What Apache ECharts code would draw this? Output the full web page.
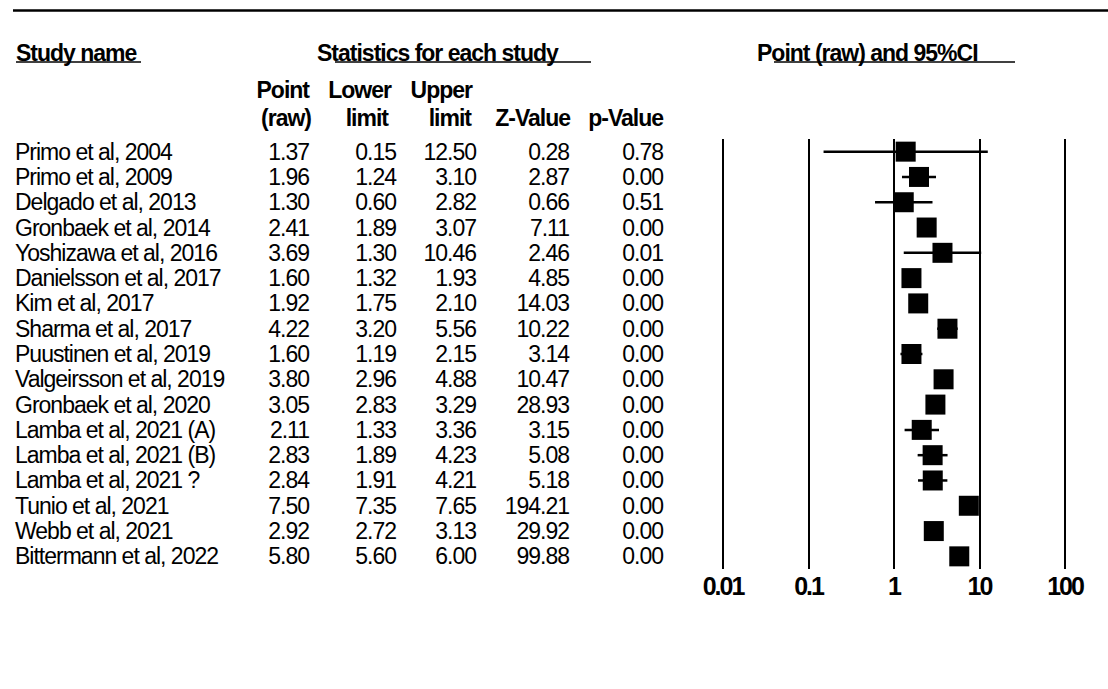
<!DOCTYPE html>
<html>
<head>
<meta charset="utf-8">
<title>Point (raw) and 95%CI</title>
<script src="https://cdn.jsdelivr.net/npm/echarts@6/dist/echarts.min.js"></script>
<style>
  html, body { margin: 0; padding: 0; background: #fff; }
  #chart { width: 1108px; height: 689px; }
  /* tight, condensed-looking table type */
  #chart svg text { letter-spacing: -1px; }
  #chart svg text[style*="25px"], #chart svg text[font-size="25px"], #chart svg text[font-size="25"] { letter-spacing: -2px; }
</style>
</head>
<body>
<div id="chart"></div>
<script>
// Study rows, top to bottom
const studies = [
  'Primo et al, 2004', 'Primo et al, 2009', 'Delgado et al, 2013', 'Gronbaek et al, 2014',
  'Yoshizawa et al, 2016', 'Danielsson et al, 2017', 'Kim et al, 2017', 'Sharma et al, 2017',
  'Puustinen et al, 2019', 'Valgeirsson et al, 2019', 'Gronbaek et al, 2020',
  'Lamba et al, 2021 (A)', 'Lamba et al, 2021 (B)', 'Lamba et al, 2021 ?',
  'Tunio et al, 2021', 'Webb et al, 2021', 'Bittermann et al, 2022'
];
const point  = [1.37, 1.96, 1.30, 2.41, 3.69, 1.60, 1.92, 4.22, 1.60, 3.80, 3.05, 2.11, 2.83, 2.84, 7.50, 2.92, 5.80];
const lower  = [0.15, 1.24, 0.60, 1.89, 1.30, 1.32, 1.75, 3.20, 1.19, 2.96, 2.83, 1.33, 1.89, 1.91, 7.35, 2.72, 5.60];
const upper  = [12.50, 3.10, 2.82, 3.07, 10.46, 1.93, 2.10, 5.56, 2.15, 4.88, 3.29, 3.36, 4.23, 4.21, 7.65, 3.13, 6.00];
const zValue = [0.28, 2.87, 0.66, 7.11, 2.46, 4.85, 14.03, 10.22, 3.14, 10.47, 28.93, 3.15, 5.08, 5.18, 194.21, 29.92, 99.88];
const pValue = [0.78, 0.00, 0.51, 0.00, 0.01, 0.00, 0.00, 0.00, 0.00, 0.00, 0.00, 0.00, 0.00, 0.00, 0.00, 0.00, 0.00];

// Log-scale ticks of the forest plot
const xTickLabels = ['0.01', '0.1', '1', '10', '100'];

// Header texts
const headTitles = ['Study name', 'Statistics for each study', 'Point (raw) and 95%CI'];
const colHeadTop = ['Point', 'Lower', 'Upper'];
const colHeadBottom = ['(raw)', 'limit', 'limit', 'Z-Value', 'p-Value'];

const FONT = "'Liberation Sans', Arial, Helvetica, sans-serif";
const GRID_LEFT = 723;
const fmt = v => v.toFixed(2);

// A category y-axis per table column, placed left of the plot by offset
function tableAxis(labels, offset, align) {
  return {
    type: 'category',
    data: labels,
    inverse: true,
    position: 'left',
    offset: offset,
    axisLine: { show: false },
    axisTick: { show: false },
    splitLine: { show: false },
    axisLabel: {
      interval: 0,
      margin: 0,
      align: align || 'right',
      color: '#000',
      fontFamily: FONT,
      fontSize: 23
    }
  };
}

const chart = echarts.init(document.getElementById('chart'), null, { renderer: 'svg' });

const boldText = (text, x, y, align) => ({
  type: 'text',
  x: x, y: y,
  style: {
    text: text,
    textAlign: align || 'left',
    textVerticalAlign: 'middle',
    fill: '#000',
    font: 'bold 23px ' + FONT
  }
});
const rule = (x1, x2, y, w) => ({
  type: 'line',
  shape: { x1: x1, y1: y, x2: x2, y2: y },
  style: { stroke: '#000', lineWidth: w }
});

chart.setOption({
  animation: false,
  backgroundColor: '#fff',
  grid: { left: GRID_LEFT, right: 43, top: 139, height: 430 },
  xAxis: {
    type: 'log',
    logBase: 10,
    min: 0.01,
    max: 100,
    axisLine: { show: false },
    axisTick: { show: false },
    splitLine: { show: true, lineStyle: { color: '#000', width: 2 } },
    axisLabel: {
      margin: 4,
      color: '#000',
      fontFamily: FONT,
      fontWeight: 'bold',
      fontSize: 25,
      showMinLabel: true,
      showMaxLabel: true,
      formatter: v => xTickLabels[Math.round(Math.log10(v)) + 2]
    }
  },
  yAxis: [
    tableAxis(studies, GRID_LEFT - 15, 'left'),
    tableAxis(point.map(fmt), GRID_LEFT - 309),
    tableAxis(lower.map(fmt), GRID_LEFT - 396),
    tableAxis(upper.map(fmt), GRID_LEFT - 476),
    tableAxis(zValue.map(fmt), GRID_LEFT - 569),
    tableAxis(pValue.map(fmt), GRID_LEFT - 663)
  ],
  series: [
    {
      // 95% confidence intervals
      type: 'custom',
      yAxisIndex: 0,
      data: studies.map((s, i) => [lower[i], upper[i], i]),
      encode: { x: [0, 1], y: 2 },
      renderItem: (params, api) => {
        const a = api.coord([api.value(0), api.value(2)]);
        const b = api.coord([api.value(1), api.value(2)]);
        return {
          type: 'line',
          shape: { x1: a[0], y1: a[1], x2: b[0], y2: b[1] },
          style: { stroke: '#000', lineWidth: 2.5 }
        };
      },
      z: 2
    },
    {
      // Point estimates
      type: 'scatter',
      yAxisIndex: 0,
      symbol: 'rect',
      symbolSize: 20,
      itemStyle: { color: '#000', opacity: 1 },
      data: studies.map((s, i) => [point[i], i]),
      z: 3
    }
  ],
  graphic: [
    rule(13, 1108, 10.5, 2.5),
    boldText(headTitles[0], 16, 53),
    rule(16, 141, 62, 1.5),
    boldText(headTitles[1], 317, 53),
    rule(335, 591, 62, 1.5),
    boldText(headTitles[2], 757, 53),
    rule(774, 1015, 62, 1.5),
    boldText(colHeadTop[0], 309, 90, 'right'),
    boldText(colHeadTop[1], 391, 90, 'right'),
    boldText(colHeadTop[2], 472, 90, 'right'),
    boldText(colHeadBottom[0], 311, 118, 'right'),
    boldText(colHeadBottom[1], 388, 118, 'right'),
    boldText(colHeadBottom[2], 471, 118, 'right'),
    boldText(colHeadBottom[3], 570, 118, 'right'),
    boldText(colHeadBottom[4], 663, 118, 'right')
  ]
});
</script>
</body>
</html>
